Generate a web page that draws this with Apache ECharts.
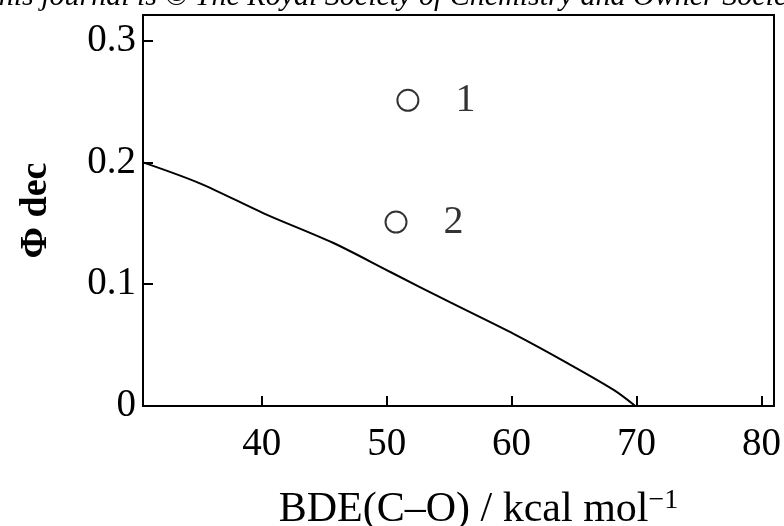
<!DOCTYPE html>
<html>
<head>
<meta charset="utf-8">
<script src="https://cdn.jsdelivr.net/npm/echarts@6/dist/echarts.min.js"></script>
<style>
  html, body { margin: 0; padding: 0; background: #fff; }
  #chart { width: 784px; height: 526px; }
</style>
</head>
<body>
<div id="chart"></div>
<script>
const chart = echarts.init(document.getElementById("chart"));

// fitted curve
const curveX = [30.5, 35, 40.2, 45.7, 50.3, 55.1, 60.2, 64.5, 68.2, 69.9];
const curveY = [0.200, 0.183, 0.158, 0.134, 0.110, 0.085, 0.059, 0.035, 0.013, 0.0];

// measured compounds
const pointNames = ["1", "2"];
const pointX = [51.7, 50.75];
const pointY = [0.251, 0.151];

const xTicks = [40, 50, 60, 70, 80];
const yTicks = [0, 0.1, 0.2, 0.3];

const serif = "Liberation Serif";

let option = {
    backgroundColor: '#fff',
    animation: false,
    graphic: [{
        type: 'text',
        left: -18,
        top: -18,
        style: {
            text: 'This journal is \u00a9 The Royal Society of Chemistry and Owner Societies',
            font: 'italic 30px "Liberation Serif"',
            fill: '#000'
        }
    }],
    grid: {
        left: 143,
        right: 10,
        top: 15,
        bottom: 120,
        outerBoundsMode: 'none',
        show: true,
        borderColor: '#000',
        borderWidth: 2
    },
    xAxis: {
        type: 'value',
        min: 30.5,
        max: 81,
        name: '{a|BDE(C\u2013O) / kcal mol}{s|\u22121}',
        nameLocation: 'middle',
        nameGap: 81,
        nameTextStyle: {
            padding: [0, 0, 0, 40],
            rich: {
                a: { fontFamily: serif, fontSize: 42, color: '#000', lineHeight: 46 },
                s: { fontFamily: serif, fontSize: 28, color: '#000', verticalAlign: 'top', lineHeight: 46, padding: [0, 0, 22, 0] }
            }
        },
        axisLine: { lineStyle: { color: '#000', width: 2 } },
        axisTick: {
            inside: true,
            length: 10,
            customValues: xTicks,
            lineStyle: { color: '#000', width: 2 }
        },
        axisLabel: {
            customValues: xTicks,
            fontFamily: serif,
            fontSize: 39,
            color: '#000',
            margin: 19
        },
        splitLine: { show: false }
    },
    yAxis: {
        type: 'value',
        min: 0,
        max: 0.321,
        name: '\u03a6 dec',
        nameLocation: 'middle',
        nameGap: 88,
        nameRotate: 90,
        nameTextStyle: {
            fontFamily: serif,
            fontSize: 38,
            fontWeight: 'bold',
            color: '#000'
        },
        axisLine: { lineStyle: { color: '#000', width: 2 } },
        axisTick: {
            inside: true,
            length: 10,
            customValues: [0.1, 0.2, 0.3],
            lineStyle: { color: '#000', width: 2 }
        },
        axisLabel: {
            customValues: yTicks,
            fontFamily: serif,
            fontSize: 39,
            color: '#000',
            margin: 7,
            formatter: function (v) { return v === 0 ? '0' : v.toFixed(1); }
        },
        splitLine: { show: false }
    },
    series: [{
        type: 'line',
        data: curveX.map((x, i) => [x, curveY[i]]),
        smooth: 0.3,
        symbol: 'none',
        lineStyle: { color: '#000', width: 2 }
    }, {
        type: 'scatter',
        data: pointX.map((x, i) => ({ value: [x, pointY[i]], name: pointNames[i] })),
        symbol: 'circle',
        symbolSize: 21,
        itemStyle: { color: '#fff', borderColor: '#000', borderWidth: 2 },
        label: {
            show: true,
            position: 'right',
            distance: 36,
            formatter: '{b}',
            fontFamily: serif,
            fontSize: 40,
            color: '#000',
            textBorderWidth: 0
        }
    }]
};

chart.setOption(option);
</script>
</body>
</html>
